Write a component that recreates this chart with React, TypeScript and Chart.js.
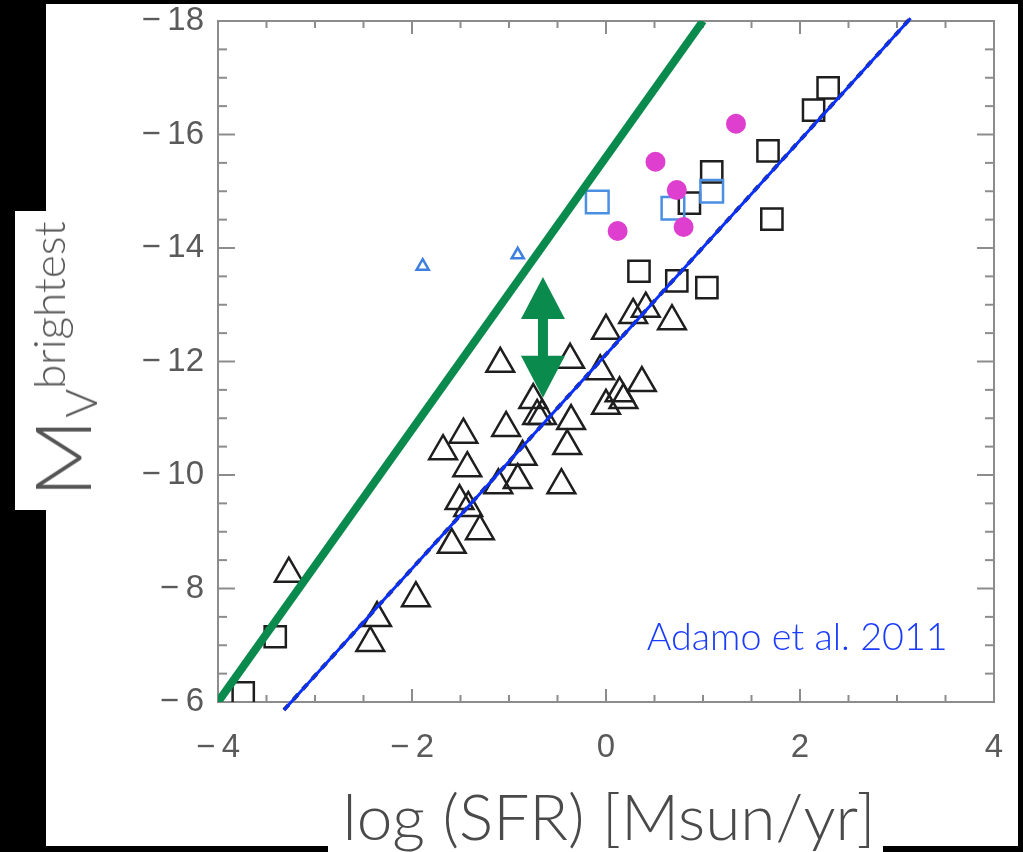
import React, { useEffect, useRef } from 'react';
import { Chart, registerables } from 'chart.js';

Chart.register(...registerables);

// ---- data (log SFR, M_V brightest) ----
const TRI_X = [-1.09, -0.37, 0.0, 0.28, 0.41, 0.68, -0.06, 0.37, 0.14, 0.18, 0.0, -0.75, -0.71, -0.66, -0.36, -1.03, -1.47, -1.68, -0.4, -0.86, -1.43, -0.91, -1.11, -0.46, -1.51, -1.42, -1.3, -1.59, -3.27, -2.36, -2.43, -1.96];
const TRI_Y = [-11.96, -12.03, -12.54, -12.82, -12.93, -12.71, -11.83, -11.62, -11.44, -11.32, -11.22, -11.32, -11.04, -11.04, -10.95, -10.83, -10.71, -10.42, -10.51, -10.32, -10.12, -9.91, -9.82, -9.82, -9.54, -9.42, -9.01, -8.77, -8.26, -7.48, -7.04, -7.83];

const SQ_X = [-3.74, -3.41, 0.34, 0.73, 1.04, 0.86, 1.09, 1.67, 1.71, 2.14, 2.29];
const SQ_Y = [-6.16, -7.15, -13.59, -13.42, -13.3, -14.79, -15.34, -15.71, -14.51, -16.43, -16.82];

const BSQ_X = [-0.09, 0.69, 1.09];
const BSQ_Y = [-14.81, -14.7, -15.0];

const DOT_X = [0.51, 0.73, 0.12, 0.8, 1.34];
const DOT_Y = [-15.52, -15.02, -14.3, -14.37, -16.19];

const SMALL_TRI_X = [-1.89, -0.91];
const SMALL_TRI_Y = [-13.68, -13.88];

const GREEN_LINE_X = [-4, 1.0];
const GREEN_LINE_Y = [-6, -18];

const BLUE_LINE_X = [-3.32, 3.14];
const BLUE_LINE_Y = [-5.86, -18.05];

const ARROW_X = [-0.65, -0.65];
const ARROW_Y = [-13.49, -11.36];

const NOTE_TEXT = 'Adamo et al. 2011';
const NOTE_X = 0.42;
const NOTE_Y = -6.92;

const X_MAJOR = [-4, -2, 0, 2, 4];
const X_MINOR = [-3.5, -3, -2.5, -1.5, -1, -0.5, 0.5, 1, 1.5, 2.5, 3, 3.5];
const Y_MAJOR = [-18, -16, -14, -12, -10, -8, -6];
const Y_MINOR = [-17.5, -17, -16.5, -15.5, -15, -14.5, -13.5, -13, -12.5, -11.5, -11, -10.5, -9.5, -9, -8.5, -7.5, -7, -6.5];

const X_TITLE = 'log (SFR) [Msun/yr]';

const zip = (xs: number[], ys: number[]) => xs.map((x, i) => ({ x, y: ys[i] }));
const fmt = (v: number) => (v < 0 ? '\u2212\u2009' + Math.abs(v) : String(v));

const FRAME = '#8c8c8c';
const GREEN = '#0b8a4e';

const decorPlugin = {
  id: 'decor',
  beforeDatasetsDraw(chart: any) {
    const { ctx, chartArea: a, scales } = chart;
    const x = scales.x, y = scales.y;
    ctx.save();
    ctx.strokeStyle = FRAME;
    ctx.lineWidth = 2;
    ctx.strokeRect(a.left, a.top, a.right - a.left, a.bottom - a.top);
    const seg = (x1: number, y1: number, x2: number, y2: number) => {
      ctx.beginPath(); ctx.moveTo(x1, y1); ctx.lineTo(x2, y2); ctx.stroke();
    };
    X_MAJOR.forEach((v) => { const p = x.getPixelForValue(v); seg(p, a.bottom, p, a.bottom - 13); seg(p, a.top, p, a.top + 13); });
    X_MINOR.forEach((v) => { const p = x.getPixelForValue(v); seg(p, a.bottom, p, a.bottom - 7); seg(p, a.top, p, a.top + 7); });
    Y_MAJOR.forEach((v) => { const p = y.getPixelForValue(v); seg(a.left, p, a.left + 17, p); seg(a.right, p, a.right - 17, p); });
    Y_MINOR.forEach((v) => { const p = y.getPixelForValue(v); seg(a.left, p, a.left + 9, p); seg(a.right, p, a.right - 9, p); });
    ctx.restore();
  },
  afterDatasetsDraw(chart: any) {
    const { ctx, scales } = chart;
    const x = scales.x, y = scales.y;
    ctx.save();
    // double arrow
    const ax = x.getPixelForValue(ARROW_X[0]);
    const top = y.getPixelForValue(ARROW_Y[0]);
    const bot = y.getPixelForValue(ARROW_Y[1]);
    const headL = 42, headW = 22, shaft = 5;
    ctx.fillStyle = GREEN;
    ctx.fillRect(ax - shaft, top + headL - 4, shaft * 2, bot - top - 2 * headL + 8);
    ctx.beginPath();
    ctx.moveTo(ax, top); ctx.lineTo(ax + headW, top + headL); ctx.lineTo(ax - headW, top + headL); ctx.closePath(); ctx.fill();
    ctx.beginPath();
    ctx.moveTo(ax, bot); ctx.lineTo(ax + headW, bot - headL); ctx.lineTo(ax - headW, bot - headL); ctx.closePath(); ctx.fill();
    // note
    ctx.font = '300 34px Lato';
    const w = ctx.measureText(NOTE_TEXT).width;
    const size = 34 * 301 / w;
    ctx.font = `300 ${size}px Lato`;
    ctx.fillStyle = '#1b3cff';
    ctx.textAlign = 'left';
    ctx.textBaseline = 'alphabetic';
    ctx.fillText(NOTE_TEXT, x.getPixelForValue(NOTE_X), y.getPixelForValue(NOTE_Y));
    ctx.restore();
  },
};

export default function App() {
  const ref = useRef<HTMLCanvasElement>(null);
  useEffect(() => {
    if (!ref.current) return;
    const chart = new Chart(ref.current, {
      type: 'scatter',
      data: {
        datasets: [
          { type: 'line', data: zip(GREEN_LINE_X, GREEN_LINE_Y), borderColor: GREEN, borderWidth: 8, pointRadius: 0, fill: false },
          { type: 'line', data: zip(BLUE_LINE_X, BLUE_LINE_Y), borderColor: '#0a30ff', borderWidth: 3, pointRadius: 0, fill: false, clip: false },
          { type: 'line', data: zip(BLUE_LINE_X, BLUE_LINE_Y), borderColor: '#333', borderWidth: 4, borderDash: [7, 7], pointRadius: 0, fill: false, clip: false },
          { data: zip(DOT_X, DOT_Y), pointStyle: 'circle', pointRadius: 10, backgroundColor: '#df3fcf', borderWidth: 0 },
          { data: zip(SMALL_TRI_X, SMALL_TRI_Y), pointStyle: 'triangle', pointRadius: 7, backgroundColor: 'rgba(0,0,0,0)', borderColor: '#3d7fe0', borderWidth: 2.5 },
          { data: zip(BSQ_X, BSQ_Y), pointStyle: 'rect', pointRadius: 16, backgroundColor: 'rgba(0,0,0,0)', borderColor: '#4a8fe2', borderWidth: 2.5 },
          { data: zip(SQ_X, SQ_Y), pointStyle: 'rect', pointRadius: 15, backgroundColor: 'rgba(0,0,0,0)', borderColor: '#1e1e1e', borderWidth: 2.5 },
          { data: zip(TRI_X, TRI_Y), pointStyle: 'triangle', pointRadius: 16, backgroundColor: 'rgba(0,0,0,0)', borderColor: '#1e1e1e', borderWidth: 2.5 },
        ],
      },
      options: {
        animation: false,
        responsive: false,
        maintainAspectRatio: false,
        devicePixelRatio: 1,
        layout: { padding: { top: 21, right: 29, left: 0, bottom: 0 } },
        plugins: { legend: { display: false }, tooltip: { enabled: false } },
        scales: {
          x: {
            type: 'linear', min: -4, max: 4,
            afterFit: (s: any) => { s.height = 150; s.paddingLeft = 0; s.paddingRight = 0; },
            grid: { display: false, drawTicks: false },
            border: { display: false },
            ticks: { stepSize: 2, padding: 26, color: '#5a5a5a', font: { family: 'Liberation Sans', size: 33 }, callback: (v: any) => fmt(Number(v)), maxRotation: 0 },
          },
          y: {
            type: 'linear', min: -18, max: -6, reverse: true,
            afterFit: (s: any) => { s.width = 218; s.paddingTop = 0; s.paddingBottom = 0; },
            grid: { display: false, drawTicks: false },
            border: { display: false },
            ticks: { stepSize: 2, padding: 14, color: '#5a5a5a', font: { family: 'Liberation Sans', size: 33 }, callback: (v: any) => fmt(Number(v)) },
          },
        },
      },
      plugins: [decorPlugin],
    } as any);
    return () => chart.destroy();
  }, []);

  return (
    <div style={{ position: 'fixed', left: 0, top: 0, width: 1023, height: 852, background: '#000', overflow: 'hidden' }}>
      <div style={{ position: 'absolute', left: 46, top: 4, width: 972, height: 842, background: '#fff' }} />
      <div style={{ position: 'absolute', left: 15, top: 211, width: 40, height: 299, background: '#fff' }} />
      <div style={{ position: 'absolute', left: 328, top: 800, width: 555, height: 52, background: '#fff' }} />
      <canvas ref={ref} width={1023} height={852} style={{ position: 'absolute', left: 0, top: 0, width: 1023, height: 852 }} />
      <div style={{ position: 'absolute', left: 62, top: 360, transform: 'translate(-50%, -50%) rotate(-90deg)', whiteSpace: 'nowrap', fontFamily: 'Lato', fontWeight: 300, color: '#555', lineHeight: 1 }}>
        <span style={{ fontSize: 76, display: 'inline-block', transform: 'scaleX(1.15)', margin: '0 6px 0 6px' }}>M</span>
        <span style={{ fontSize: 44, position: 'relative', top: 6 }}>V</span>
        <span style={{ fontSize: 44, position: 'relative', top: -26 }}>brightest</span>
      </div>
      <div style={{ position: 'absolute', left: 609, top: 816, transform: 'translate(-50%, -50%)', whiteSpace: 'nowrap', fontFamily: 'Lato', fontWeight: 300, fontSize: 64, color: '#4a4a4a', lineHeight: 1 }}>
        {X_TITLE}
      </div>
    </div>
  );
}
